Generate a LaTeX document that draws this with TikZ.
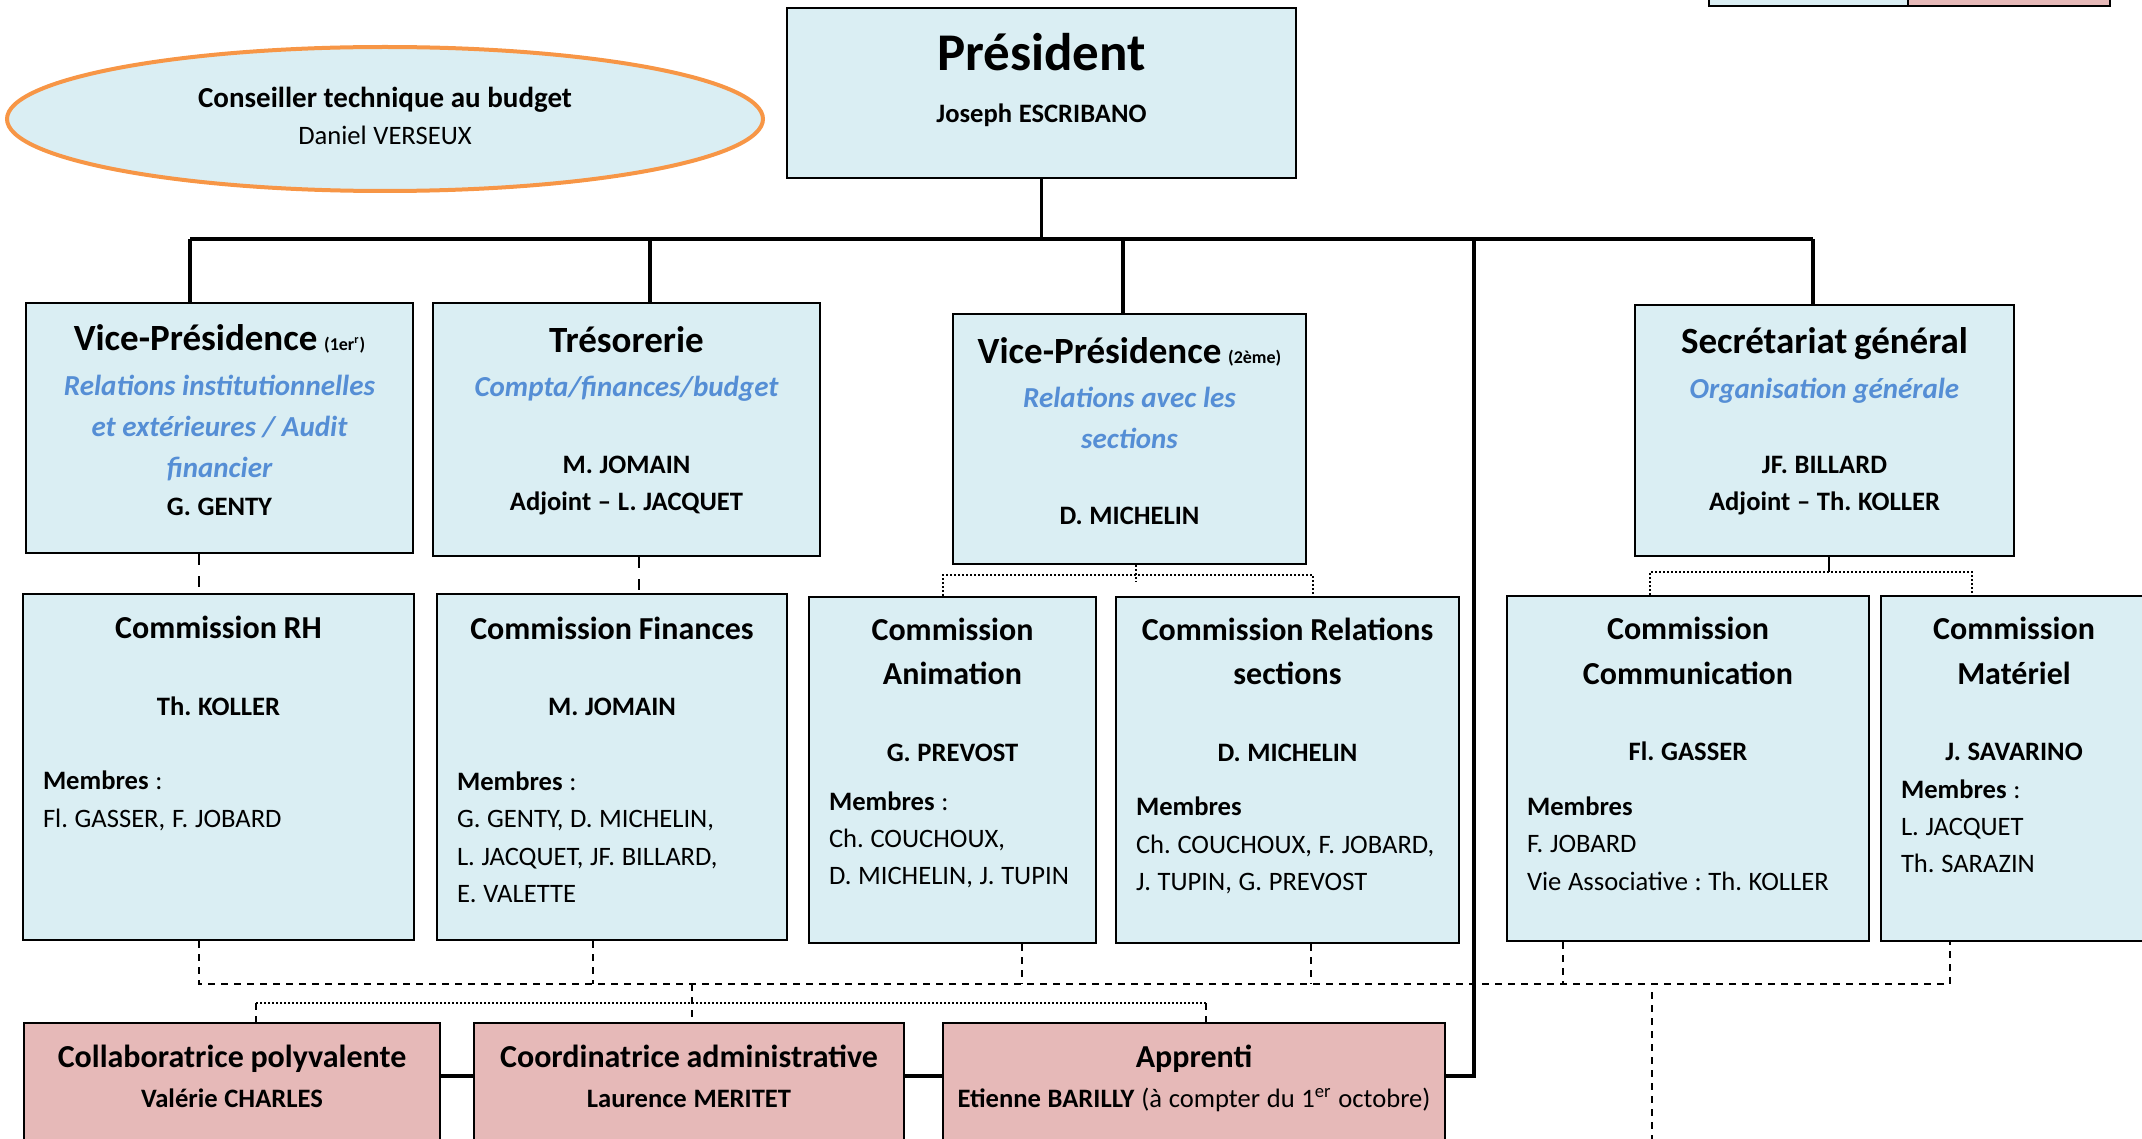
\documentclass[tikz,border=0pt]{standalone}
\usepackage{fontspec}
\setmainfont{Carlito}
\usetikzlibrary{positioning,fit,calc,shapes.geometric}

\definecolor{boxblue}{HTML}{DAEEF3}
\definecolor{boxpink}{HTML}{E6B9B8}
\definecolor{roleblue}{HTML}{558ED5}
\definecolor{ovalorange}{HTML}{F79646}

% one centred / one left row of a box text: size, distance to previous baseline, text
\newcommand{\crow}[3]{{\centering\fontsize{#1}{#2}\selectfont #3\par}}
\newcommand{\lrow}[3]{{\raggedright\fontsize{#1}{#2}\selectfont\mbox{#3}\par}}
\newcommand{\role}[1]{\textcolor{roleblue}{\bfseries\itshape #1}}
\newcommand{\rank}[1]{{\fontsize{9}{10}\selectfont #1}}

\begin{document}
\frenchspacing
\begin{tikzpicture}[x=0.5pt,y=-0.5pt]
        %
        % `bluebox' and `pinkbox' are the posts, `oval' the adviser.
        % `trunk' is the line of authority, `duty', `team', `pool' the links.
        \tikzstyle{bluebox} = [draw,fill=boxblue,line width=1.2pt,inner sep=0pt]
        \tikzstyle{pinkbox} = [draw,fill=boxpink,line width=1.2pt,inner sep=0pt]
        \tikzstyle{oval} = [ellipse,draw=ovalorange,fill=boxblue,line width=2pt,minimum width=378pt,minimum height=72pt]
        \tikzstyle{boxtext} = [anchor=base,inner sep=0pt]
        \tikzstyle{trunk} = [line width=1.7pt]
        \tikzstyle{staff} = [line width=2.4pt]
        \tikzstyle{duty} = [line width=1.2pt,dash pattern=on 5.5pt off 5.5pt]
        \tikzstyle{team} = [densely dotted,line width=1pt]
        \tikzstyle{pool} = [line width=0.6pt,dash pattern=on 3.5pt off 3pt]
        %
        \useasboundingbox (0,0) rectangle (2142,1139);
        \clip (0,0) rectangle (2142,1139);
        %
        % Legend (cut at the top)
        \node[bluebox,fit={(1709,-40) (1908,6)}] (legblue) {};
        \node[pinkbox,fit={(1908,-40) (2110,6)}] (legpink) {};
        %
        % President and adviser
        \node[bluebox,fit={(787,8) (1296,178)}] (pres) {};
        \node[boxtext,text width=240pt] (pres-t) at ($(pres.north)+(0,64)$) {
          \crow{26.5}{30}{\bfseries Président}
          \crow{13.3}{26}{\bfseries Joseph ESCRIBANO}};
        \node[oval] (budget) at (385,119) {};
        \node[boxtext,text width=300pt] (budget-t) at ($(budget.north)+(0,63)$) {
          \crow{14.5}{16}{\bfseries Conseiller technique au budget}
          \crow{13.3}{18.5}{Daniel VERSEUX}};
        %
        % Row 1
        \node[bluebox,fit={(26,303) (413,553)}] (vp1) {};
        \node[boxtext,text width=183pt] (vp1-t) at ($(vp1.north)+(0,49)$) {
          \crow{18.5}{20}{\bfseries Vice-Présidence \rank{(1er\textsuperscript{r})}}
          \crow{14.5}{22.5}{\role{Relations institutionnelles}}
          \crow{14.5}{20.5}{\role{et extérieures / Audit}}
          \crow{14.5}{20.5}{\role{financier}}
          \crow{13.3}{19}{\bfseries G. GENTY}};
        \node[bluebox,fit={(433,303) (820,556)}] (treso) {};
        \node[boxtext,text width=183pt] (treso-t) at ($(treso.north)+(0,51)$) {
          \crow{18.5}{20}{\bfseries Trésorerie}
          \crow{14.5}{22}{\role{Compta/finances/budget}}
          \crow{13.3}{38.5}{\bfseries M. JOMAIN}
          \crow{13.3}{18.5}{\bfseries Adjoint – L. JACQUET}};
        \node[bluebox,fit={(953,314) (1306,564)}] (vp2) {};
        \node[boxtext,text width=166pt] (vp2-t) at ($(vp2.north)+(0,51)$) {
          \crow{18.5}{20}{\bfseries Vice-Présidence \rank{(2ème)}}
          \crow{14.5}{22}{\role{Relations avec les}}
          \crow{14.5}{20.5}{\role{sections}}
          \crow{13.3}{38}{\bfseries D. MICHELIN}};
        \node[bluebox,fit={(1635,305) (2014,556)}] (secr) {};
        \node[boxtext,text width=180pt] (secr-t) at ($(secr.north)+(0,50)$) {
          \crow{18.5}{20}{\bfseries Secrétariat général}
          \crow{14.5}{22.5}{\role{Organisation générale}}
          \crow{13.3}{37.5}{\bfseries JF. BILLARD}
          \crow{13.3}{18.5}{\bfseries Adjoint – Th. KOLLER}};
        %
        % Row 2: commissions
        \node[bluebox,fit={(23,594) (414,940)}] (rh) {};
        \node[boxtext,text width=175.5pt] (rh-t) at ($(rh.north)+(0,46)$) {
          \crow{16}{18}{\bfseries Commission RH}
          \crow{13.3}{38.5}{\bfseries Th. KOLLER}
          \lrow{13.3}{37}{\textbf{Membres} :}
          \lrow{13.3}{19}{Fl. GASSER, F. JOBARD}};
        \node[bluebox,fit={(437,594) (787,940)}] (fin) {};
        \node[boxtext,text width=155pt] (fin-t) at ($(fin.north)+(0,47)$) {
          \crow{16}{18}{\bfseries Commission Finances}
          \crow{13.3}{38}{\bfseries M. JOMAIN}
          \lrow{13.3}{37.5}{\textbf{Membres} :}
          \lrow{13.3}{18.5}{G. GENTY, D. MICHELIN,}
          \lrow{13.3}{19}{L. JACQUET, JF. BILLARD,}
          \lrow{13.3}{18.5}{E. VALETTE}};
        \node[bluebox,fit={(809,597) (1096,943)}] (anim) {};
        \node[boxtext,text width=123.5pt] (anim-t) at ($(anim.north)+(0,45)$) {
          \crow{16}{18}{\bfseries Commission}
          \crow{16}{22}{\bfseries Animation}
          \crow{13.3}{38.5}{\bfseries G. PREVOST}
          \lrow{13.3}{24.5}{\textbf{Membres} :}
          \lrow{13.3}{18.5}{Ch. COUCHOUX,}
          \lrow{13.3}{18.5}{D. MICHELIN, J. TUPIN}};
        \node[bluebox,fit={(1116,597) (1459,943)}] (rel) {};
        \node[boxtext,text width=151.5pt] (rel-t) at ($(rel.north)+(0,45)$) {
          \crow{16}{18}{\bfseries Commission Relations}
          \crow{16}{22}{\bfseries sections}
          \crow{13.3}{38.5}{\bfseries D. MICHELIN}
          \lrow{13.3}{27}{\textbf{Membres}}
          \lrow{13.3}{19}{Ch. COUCHOUX, F. JOBARD,}
          \lrow{13.3}{18.5}{J. TUPIN, G. PREVOST}};
        \node[bluebox,fit={(1507,596) (1869,941)}] (comm) {};
        \node[boxtext,text width=161pt] (comm-t) at ($(comm.north)+(0,45)$) {
          \crow{16}{18}{\bfseries Commission}
          \crow{16}{22.5}{\bfseries Communication}
          \crow{13.3}{38}{\bfseries Fl. GASSER}
          \lrow{13.3}{27.5}{\textbf{Membres}}
          \lrow{13.3}{18.5}{F. JOBARD}
          \lrow{13.3}{19}{Vie Associative : Th. KOLLER}};
        \node[bluebox,fit={(1881,596) (2147,941)}] (mat) {};
        \node[boxtext,text width=113pt] (mat-t) at ($(mat.north)+(0,45)$) {
          \crow{16}{18}{\bfseries Commission}
          \crow{16}{22.5}{\bfseries Matériel}
          \crow{13.3}{38}{\bfseries J. SAVARINO}
          \lrow{13.3}{19}{\textbf{Membres} :}
          \lrow{13.3}{18.5}{L. JACQUET}
          \lrow{13.3}{18.5}{Th. SARAZIN}};
        %
        % Row 3: staff (cut at the bottom)
        \node[pinkbox,fit={(24,1023) (440,1160)}] (collab) {};
        \node[boxtext,text width=190pt] (collab-t) at ($(collab.north)+(0,46)$) {
          \crow{16}{18}{\bfseries Collaboratrice polyvalente}
          \crow{13.3}{20}{\bfseries Valérie CHARLES}};
        \node[pinkbox,fit={(474,1023) (904,1160)}] (coord) {};
        \node[boxtext,text width=200pt] (coord-t) at ($(coord.north)+(0,46)$) {
          \crow{16}{18}{\bfseries Coordinatrice administrative}
          \crow{13.3}{20}{\bfseries Laurence MERITET}};
        \node[pinkbox,fit={(943,1023) (1445,1160)}] (appr) {};
        \node[boxtext,text width=240pt] (appr-t) at ($(appr.north)+(0,46)$) {
          \crow{16}{18}{\bfseries Apprenti}
          \crow{13.3}{20}{\textbf{Etienne BARILLY} (à compter du 1\textsuperscript{er} octobre)}};
        %
        % Line of authority
        \coordinate (busL) at (190,239);
        \coordinate (busR) at (1813,239);
        \draw[trunk] (pres.south) -- (pres.south |- busL);
        \draw[trunk] (busL) -- (busR);
        \draw[trunk] (busL) -- (vp1.north -| busL);
        \draw[trunk] (650,239) -- (treso.north -| 650,0);
        \draw[trunk] (1123,239) -- (vp2.north -| 1123,0);
        \draw[trunk] (busR) -- (secr.north -| busR);
        \draw[trunk] (1474,239) -- (1474,1076) -- (appr.east |- 0,1076);
        \draw[staff] (collab.east |- 0,1076) -- (coord.west |- 0,1076);
        \draw[staff] (coord.east |- 0,1076) -- (appr.west |- 0,1076);
        %
        % Row 1 to commissions
        \draw[duty] (vp1.south -| 199,0) -- (rh.north -| 199,0);
        \draw[duty] (treso.south -| 639,0) -- (fin.north -| 639,0);
        \draw[team] (vp2.south -| 1136,0) -- (1136,582);
        \draw[team] (anim.north -| 943,0) -- (943,575) -- (1313,575) -- (rel.north -| 1313,0);
        \draw[line width=1.2pt] (secr.south -| 1829,0) -- (1829,572);
        \draw[team] (comm.north -| 1650,0) -- (1650,572) -- (1972,572) -- (mat.north -| 1972,0);
        %
        % Commissions to staff
        \draw[pool] (rh.south -| 199,0) -- (199,984) -- (1950,984) -- (mat.south -| 1950,0);
        \draw[pool] (fin.south -| 593,0) -- (593,984);
        \draw[pool] (anim.south -| 1022,0) -- (1022,984);
        \draw[pool] (rel.south -| 1311,0) -- (1311,984);
        \draw[pool] (comm.south -| 1563,0) -- (1563,984);
        \draw[pool] (692,984) -- (coord.north -| 692,0);
        \draw[team] (256,1003) -- (1206,1003);
        \draw[pool] (256,1003) -- (collab.north -| 256,0);
        \draw[pool] (1206,1003) -- (appr.north -| 1206,0);
        \draw[pool] (1652,992) -- (1652,1139);
        %
\end{tikzpicture}
\end{document}
